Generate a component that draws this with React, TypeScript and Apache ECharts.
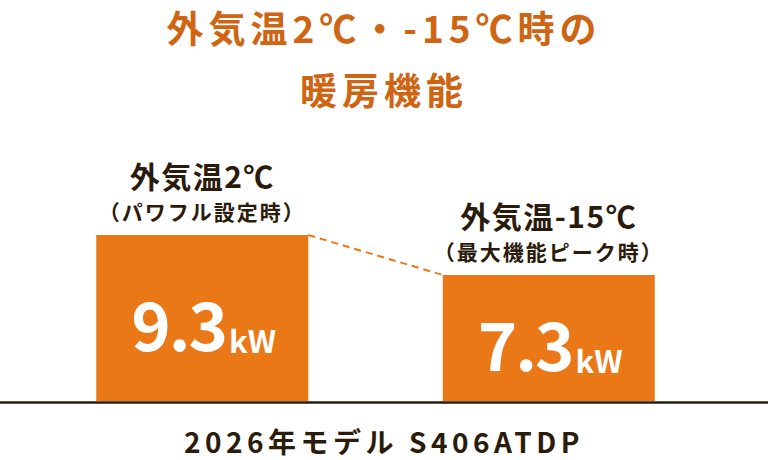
import React, { useEffect, useRef } from 'react';
import * as echarts from 'echarts';

// chart data
const tempLabels = ['外気温2℃', '外気温-15℃'];
const modeLabels = ['（パワフル設定時）', '（最大機能ピーク時）'];
const outputKW = [9.3, 7.3];
const unit = 'kW';
const titleText = '外気温2℃・-15℃時の\n暖房機能';
const modelLabel = '2026年モデル S406ATDP';

const FONT = '"Noto Sans CJK JP", "Noto Sans", sans-serif';
const ORANGE = '#EB7817';
const TITLE_ORANGE = '#CF6412';
const DARK = '#2B1B0B';
const BAR_WIDTH = 212;

// letter spacing for the svg texts, keyed on their font size
const spacingCss = `
.heat-chart text[style*="37px"] { letter-spacing: 5px; }
.heat-chart text[style*="28px"] { letter-spacing: 4.5px; }
.heat-chart text[style*="30px"] { letter-spacing: 1.5px; }
.heat-chart text[style*="21px"] { letter-spacing: 2px; }
.heat-chart text[style*="67px"] { letter-spacing: -2px; }
`;

const App: React.FC = () => {
  const chartRef = useRef<HTMLDivElement>(null);

  useEffect(() => {
    document.body.style.margin = '0';
    if (!chartRef.current) return;
    const chart = echarts.init(chartRef.current, undefined, { renderer: 'svg' });

    const option = {
      animation: false,
      title: [
        {
          text: titleText,
          left: 'center',
          top: -9,
          textStyle: {
            fontFamily: FONT,
            fontSize: 37,
            fontWeight: 'bold',
            color: TITLE_ORANGE,
            lineHeight: 62
          }
        },
        {
          text: modelLabel,
          left: 'center',
          top: 422,
          textStyle: {
            fontFamily: FONT,
            fontSize: 28,
            fontWeight: 'bold',
            color: DARK,
            lineHeight: 28
          }
        }
      ],
      grid: { left: 29, right: 46, top: 221, bottom: 59 },
      xAxis: {
        type: 'category',
        data: tempLabels,
        axisLine: { show: false },
        axisTick: { show: false },
        axisLabel: { show: false }
      },
      yAxis: {
        type: 'value',
        min: 1,
        max: 10,
        show: false,
        splitLine: { show: false }
      },
      series: [
        {
          type: 'bar',
          data: outputKW,
          barWidth: BAR_WIDTH,
          itemStyle: { color: ORANGE },
          label: {
            show: true,
            position: 'inside',
            offset: [0, 3],
            formatter: (p: any) => `{n|${p.value}}{u|${unit}}`,
            rich: {
              n: {
                fontFamily: FONT,
                fontSize: 67,
                fontWeight: 'bold',
                color: '#fff',
                lineHeight: 67,
                verticalAlign: 'bottom'
              },
              u: {
                fontFamily: FONT,
                fontSize: 31,
                fontWeight: 'bold',
                color: '#fff',
                lineHeight: 67,
                verticalAlign: 'bottom'
              }
            }
          }
        },
        {
          type: 'bar',
          data: outputKW,
          barWidth: BAR_WIDTH,
          barGap: '-100%',
          silent: true,
          itemStyle: { color: 'transparent' },
          label: {
            show: true,
            position: 'top',
            distance: 9,
            formatter: (p: any) =>
              `{t|${tempLabels[p.dataIndex]}}\n{m|${modeLabels[p.dataIndex]}}`,
            rich: {
              t: {
                fontFamily: FONT,
                fontSize: 30,
                fontWeight: 'bold',
                color: DARK,
                lineHeight: 42
              },
              m: {
                fontFamily: FONT,
                fontSize: 21,
                fontWeight: 'bold',
                color: DARK,
                lineHeight: 30
              }
            }
          }
        },
        {
          type: 'custom',
          silent: true,
          data: [[0, outputKW[0], 1, outputKW[1]]],
          renderItem: (params: any, api: any) => {
            const a = api.coord([api.value(0), api.value(1)]);
            const b = api.coord([api.value(2), api.value(3)]);
            return {
              type: 'line',
              shape: { x1: a[0] + BAR_WIDTH / 2, y1: a[1], x2: b[0] - BAR_WIDTH / 2, y2: b[1] },
              style: { stroke: ORANGE, lineWidth: 2, lineDash: [7, 5] }
            };
          }
        }
      ],
      graphic: [
        {
          type: 'line',
          shape: { x1: 0, y1: 402.5, x2: 768, y2: 402.5 },
          style: { stroke: DARK, lineWidth: 2.5 }
        }
      ]
    };

    chart.setOption(option);
    return () => {
      chart.dispose();
    };
  }, []);

  return (
    <>
      <style>{spacingCss}</style>
      <div ref={chartRef} className="heat-chart" style={{ width: 768, height: 460 }} />
    </>
  );
};

export default App;
